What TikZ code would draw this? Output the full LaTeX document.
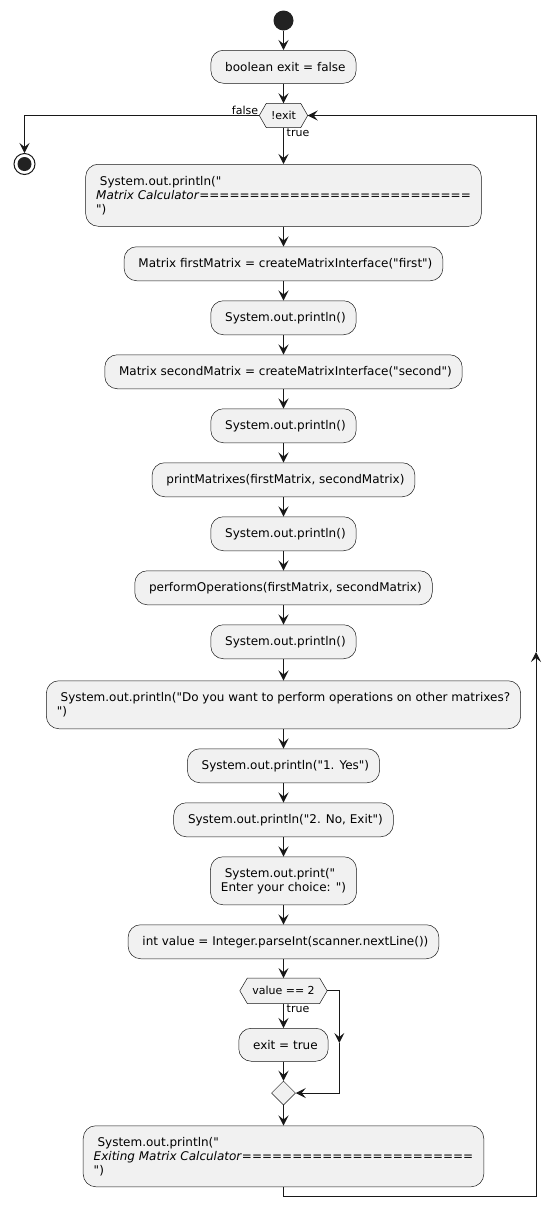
\documentclass[tikz,border=0pt]{standalone}
\usepackage{fontspec}
\setmainfont{DejaVu Sans}[Ligatures=TeXOff]
\usetikzlibrary{arrows.meta,shapes.geometric,backgrounds}
\definecolor{boxfill}{HTML}{F1F1F1}
\definecolor{ink}{HTML}{181818}
\definecolor{dot}{HTML}{222222}
\begin{document}
\begin{tikzpicture}[x=1pt,y=-1pt,
  actbox/.style={draw=ink, line width=0.5pt, fill=boxfill, rounded corners=12.5pt, inner xsep=10.5pt, inner ysep=0pt, align=left, anchor=north, font=\fontsize{12}{14}\selectfont},
  flow/.style={draw=ink, line width=1pt, -{Stealth[length=10pt,width=10pt,inset=4pt]}},
  hexshape/.style={draw=ink, line width=0.5pt, fill=boxfill},
  lbl/.style={font=\fontsize{11}{13}\selectfont, inner sep=1pt},
  hexlbl/.style={font=\fontsize{11}{13}\selectfont, inner sep=0pt}]
\useasboundingbox (0,0) rectangle (558,1219);

% start / end
\node[circle, fill=dot, minimum size=20pt, inner sep=0pt] (st) at (283.5,20.5) {};
\node[circle, draw=ink, line width=1pt, fill=white, minimum size=21pt, inner sep=0pt] (en) at (24.5,164) {};
\node[circle, fill=dot, minimum size=14pt, inner sep=0pt] (enin) at (en.center) {};

% actions
\node[actbox, minimum height=33pt] (b0) at (283.5,50) {\ boolean exit = false};
\node[hexlbl, minimum width=48pt, minimum height=24pt] (c1) at (283.5,115.5) {!exit};
\node[actbox, minimum height=62pt] (m1) at (283.5,164) {\ System.out.println("\\\textit{Matrix Calculator}===========================\\")};
\node[actbox, minimum height=34pt] (fm) at (283.5,246.5) {\ Matrix firstMatrix = createMatrixInterface("first")};
\node[actbox, minimum height=34pt] (p1) at (283.5,300.5) {\ System.out.println()};
\node[actbox, minimum height=34pt] (sm) at (283.5,354.5) {\ Matrix secondMatrix = createMatrixInterface("second")};
\node[actbox, minimum height=34pt] (p2) at (283.5,408.5) {\ System.out.println()};
\node[actbox, minimum height=34pt] (pm) at (283.5,462.5) {\ printMatrixes(firstMatrix, secondMatrix)};
\node[actbox, minimum height=34pt] (p3) at (283.5,516.5) {\ System.out.println()};
\node[actbox, minimum height=34pt] (po) at (283.5,570.5) {\ performOperations(firstMatrix, secondMatrix)};
\node[actbox, minimum height=34pt] (p4) at (283.5,624.5) {\ System.out.println()};
\node[actbox, minimum height=48pt] (dy) at (283.5,680.5) {\ System.out.println("Do you want to perform operations on other matrixes?\\")};
\node[actbox, minimum height=34pt] (y1) at (283.5,748.5) {\ System.out.println("1. Yes")};
\node[actbox, minimum height=34pt] (n2) at (283.5,802.5) {\ System.out.println("2. No, Exit")};
\node[actbox, minimum height=48pt] (ch) at (283.5,856.5) {\ System.out.print("\\Enter your choice: ")};
\node[actbox, minimum height=34pt] (iv) at (283.5,924.5) {\ int value = Integer.parseInt(scanner.nextLine())};
\node[hexlbl, minimum width=87pt, minimum height=25pt] (c2) at (283.5,990.8) {value == 2};
\node[actbox, minimum height=33pt] (ex) at (283.5,1028) {\ exit = true};
\node[diamond, draw=ink, line width=0.5pt, fill=boxfill, minimum width=24pt, minimum height=24pt, inner sep=0pt] (mg) at (283.5,1093) {};
\node[actbox, minimum height=61pt] (fin) at (283.5,1125.5) {\ System.out.println("\\\textit{Exiting Matrix Calculator}=======================\\")};

% hexagon outlines
\begin{scope}[on background layer]
\fill[white] (0,0) rectangle (558,1219);
\draw[hexshape] (c1.west) -- ([xshift=7pt]c1.north west) -- ([xshift=-7pt]c1.north east) -- (c1.east) -- ([xshift=-7pt]c1.south east) -- ([xshift=7pt]c1.south west) -- cycle;
\draw[hexshape] (c2.west) -- ([xshift=7.5pt]c2.north west) -- ([xshift=-7.5pt]c2.north east) -- (c2.east) -- ([xshift=-7.5pt]c2.south east) -- ([xshift=7.5pt]c2.south west) -- cycle;
\end{scope}

% labels
\node[lbl, anchor=south east] (lf) at (c1.west) {false};
\node[lbl, anchor=north west, xshift=2pt] (lt) at (c1.south) {true};
\node[lbl, anchor=north west, xshift=2pt] (lt2) at (c2.south) {true};

% connectors
\draw[flow] (st.south) -- (b0.north);
\draw[flow] (b0.south) -- (c1.north);
\draw[flow] (c1.west) -| (en.north);
\draw[flow] (c1.south) -- (m1.north);
\draw[flow] (m1.south) -- (fm.north);
\draw[flow] (fm.south) -- (p1.north);
\draw[flow] (p1.south) -- (sm.north);
\draw[flow] (sm.south) -- (p2.north);
\draw[flow] (p2.south) -- (pm.north);
\draw[flow] (pm.south) -- (p3.north);
\draw[flow] (p3.south) -- (po.north);
\draw[flow] (po.south) -- (p4.north);
\draw[flow] (p4.south) -- (dy.north);
\draw[flow] (dy.south) -- (y1.north);
\draw[flow] (y1.south) -- (n2.north);
\draw[flow] (n2.south) -- (ch.north);
\draw[flow] (ch.south) -- (iv.north);
\draw[flow] (iv.south) -- (c2.north);
\draw[flow] (c2.south) -- (ex.north);
\coordinate (rb) at (339.3,1043);
\draw[flow] (c2.east) -| (rb);
\draw[flow] (rb) |- (mg.east);
\draw[flow] (ex.south) -- (mg.north);
\draw[flow] (mg.south) -- (fin.north);
\coordinate (lb) at (283.5,1196);
\coordinate (lr) at (536,652);
\draw[flow] (fin.south) -- (lb) -| (lr);
\draw[flow] (lr) |- (c1.east);
\end{tikzpicture}
\end{document}
